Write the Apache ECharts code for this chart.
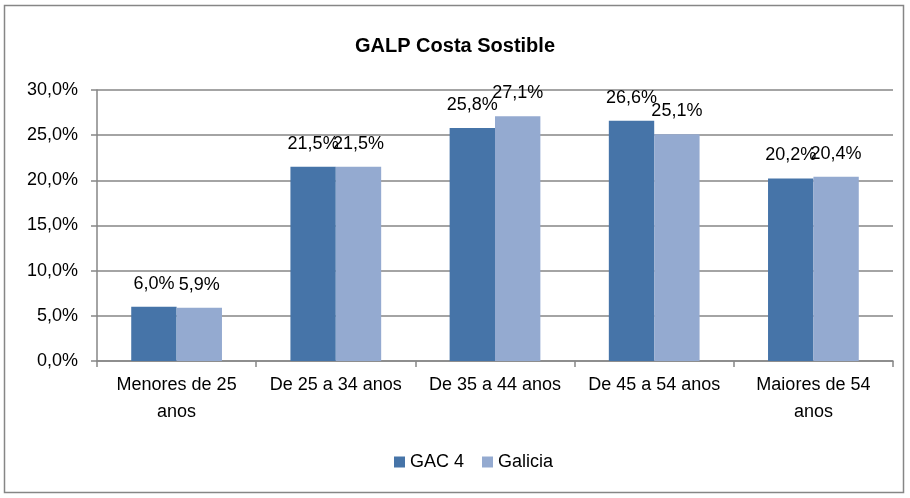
<!DOCTYPE html>
<html>
<head>
<meta charset="utf-8">
<script src="https://cdn.jsdelivr.net/npm/echarts@6/dist/echarts.min.js"></script>
<style>
  html, body { margin: 0; padding: 0; background: #fff; }
  #chart { width: 910px; height: 498px; }
</style>
</head>
<body>
<div id="chart"></div>
<script>
const categories = ["Menores de 25\nanos", "De 25 a 34 anos", "De 35 a 44 anos", "De 45 a 54 anos", "Maiores de 54\nanos"];
const gac4 = [0.060, 0.215, 0.258, 0.266, 0.202];
const galicia = [0.059, 0.215, 0.271, 0.251, 0.204];

const font = "Liberation Sans";

function pct(v, digits) {
  return (v * 100).toFixed(digits).replace(".", ",") + "%";
}

const chart = echarts.init(document.getElementById("chart"), null, { renderer: "canvas" });

const labelStyle = {
  show: true,
  position: "top",
  distance: 14,
  color: "#000",
  fontFamily: font,
  fontSize: 18,
  formatter: (p) => pct(p.value, 1),
};

chart.setOption({
  animation: false,
  textStyle: { fontFamily: font },
  graphic: [
    {
      type: "rect",
      shape: { x: 4.5, y: 5.5, width: 899, height: 487 },
      style: { fill: "none", stroke: "#868686", lineWidth: 1.5 },
    },
  ],
  title: {
    text: "GALP Costa Sostible",
    left: "center",
    top: 31,
    textStyle: { fontFamily: font, fontSize: 20, fontWeight: "bold", color: "#000" },
  },
  legend: {
    bottom: 22,
    left: 389,
    itemWidth: 11,
    itemHeight: 11,
    itemGap: 18,
    icon: "rect",
    textStyle: { fontFamily: font, fontSize: 18, color: "#000" },
    data: ["GAC 4", "Galicia"],
  },
  grid: { left: 97, right: 17, top: 90, bottom: 137 },
  xAxis: {
    type: "category",
    data: categories,
    axisLine: { lineStyle: { color: "#868686", width: 1.5 } },
    axisTick: { show: true, length: 6, alignWithLabel: false, lineStyle: { color: "#868686", width: 1.5 } },
    axisLabel: { color: "#000", fontFamily: font, fontSize: 18, lineHeight: 27, margin: 11, interval: 0 },
  },
  yAxis: {
    type: "value",
    min: 0,
    max: 0.3,
    interval: 0.05,
    axisLine: { show: true, lineStyle: { color: "#868686", width: 1.5 } },
    axisTick: { show: true, length: 6, lineStyle: { color: "#868686", width: 1.5 } },
    splitLine: { lineStyle: { color: "#868686", width: 1.5 } },
    axisLabel: { color: "#000", fontFamily: font, fontSize: 18, margin: 19, formatter: (v) => pct(v, 1) },
  },
  series: [
    {
      name: "GAC 4",
      type: "bar",
      data: gac4,
      barGap: "0%",
      barCategoryGap: "43%",
      itemStyle: { color: "#4674A8" },
      label: labelStyle,
    },
    {
      name: "Galicia",
      type: "bar",
      data: galicia,
      itemStyle: { color: "#94AAD0" },
      label: labelStyle,
    },
  ],
});
</script>
</body>
</html>
